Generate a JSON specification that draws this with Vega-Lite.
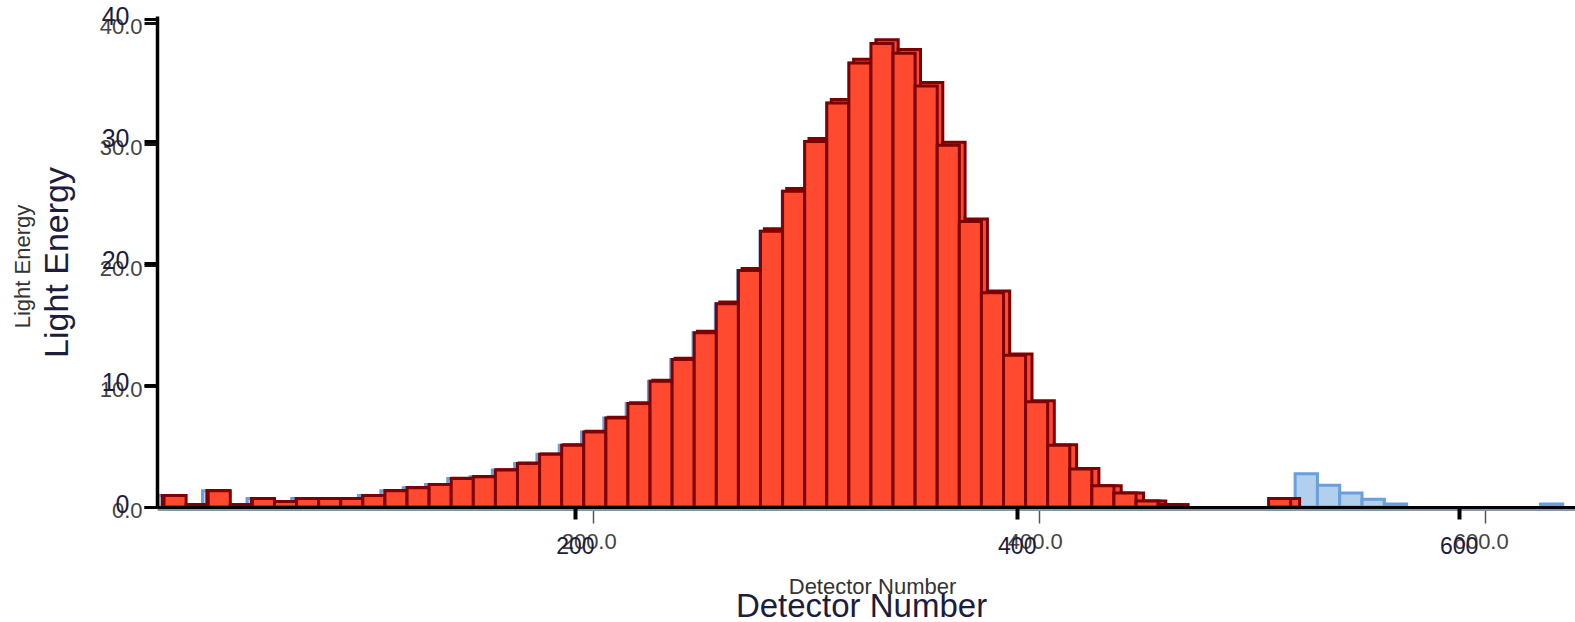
{
  "$schema": "https://vega.github.io/schema/vega-lite/v6.json",
  "width": 1418,
  "height": 487,
  "autosize": {"type": "none"},
  "padding": {"left": 157, "top": 20, "right": 0, "bottom": 115},
  "background": "white",
  "config": {"view": {"stroke": null}, "axis": {"grid": false}},
  "datasets": {
    "red": [
      {"rs": 14, "re": 24, "gs": 7, "ge": 17, "v": 0.95},
      {"rs": 24, "re": 34, "gs": 17, "ge": 27, "v": 0.2},
      {"rs": 34, "re": 44, "gs": 27, "ge": 37, "v": 1.35},
      {"rs": 44, "re": 54, "gs": 37, "ge": 47, "v": 0.2},
      {"rs": 54, "re": 64, "gs": 47, "ge": 57, "v": 0.7},
      {"rs": 64, "re": 74, "gs": 57, "ge": 67, "v": 0.45},
      {"rs": 74, "re": 84, "gs": 67, "ge": 77, "v": 0.7},
      {"rs": 84, "re": 94, "gs": 77, "ge": 87, "v": 0.7},
      {"rs": 94, "re": 104, "gs": 87, "ge": 97, "v": 0.7},
      {"rs": 104, "re": 114, "gs": 97, "ge": 107, "v": 0.95},
      {"rs": 114, "re": 124, "gs": 107, "ge": 117, "v": 1.35},
      {"rs": 124, "re": 134, "gs": 117, "ge": 127, "v": 1.6},
      {"rs": 134, "re": 144, "gs": 127, "ge": 137, "v": 1.85},
      {"rs": 144, "re": 154, "gs": 137, "ge": 147, "v": 2.35},
      {"rs": 154, "re": 164, "gs": 147, "ge": 157, "v": 2.5},
      {"rs": 164, "re": 174, "gs": 157, "ge": 167, "v": 3.05},
      {"rs": 174, "re": 184, "gs": 167, "ge": 177, "v": 3.6},
      {"rs": 184, "re": 194, "gs": 177, "ge": 187, "v": 4.35},
      {"rs": 194, "re": 204, "gs": 187, "ge": 197, "v": 5.1},
      {"rs": 204, "re": 214, "gs": 197, "ge": 207, "v": 6.2},
      {"rs": 214, "re": 224, "gs": 207, "ge": 217, "v": 7.35},
      {"rs": 224, "re": 234, "gs": 217, "ge": 227, "v": 8.55},
      {"rs": 234, "re": 244, "gs": 227, "ge": 237, "v": 10.4},
      {"rs": 244, "re": 254, "gs": 237, "ge": 247, "v": 12.2},
      {"rs": 254, "re": 264, "gs": 247, "ge": 257, "v": 14.4},
      {"rs": 264, "re": 274, "gs": 257, "ge": 267, "v": 16.8},
      {"rs": 274, "re": 284, "gs": 267, "ge": 277, "v": 19.55},
      {"rs": 284, "re": 294, "gs": 277, "ge": 287, "v": 22.8},
      {"rs": 294, "re": 304, "gs": 287, "ge": 297, "v": 26.1},
      {"rs": 304, "re": 314, "gs": 297, "ge": 307, "v": 30.2},
      {"rs": 314, "re": 324, "gs": 307, "ge": 317, "v": 33.4},
      {"rs": 324, "re": 334, "gs": 317, "ge": 327, "v": 36.7},
      {"rs": 334, "re": 344, "gs": 327, "ge": 337, "v": 38.3},
      {"rs": 344, "re": 354, "gs": 337, "ge": 347, "v": 37.5},
      {"rs": 354, "re": 364, "gs": 347, "ge": 357, "v": 34.8},
      {"rs": 364, "re": 374, "gs": 357, "ge": 367, "v": 29.9},
      {"rs": 374, "re": 384, "gs": 367, "ge": 377, "v": 23.6},
      {"rs": 384, "re": 394, "gs": 377, "ge": 387, "v": 17.7},
      {"rs": 394, "re": 404, "gs": 387, "ge": 397, "v": 12.55},
      {"rs": 404, "re": 414, "gs": 397, "ge": 407, "v": 8.7},
      {"rs": 414, "re": 424, "gs": 407, "ge": 417, "v": 5.1},
      {"rs": 424, "re": 434, "gs": 417, "ge": 427, "v": 3.15},
      {"rs": 434, "re": 444, "gs": 427, "ge": 437, "v": 1.75},
      {"rs": 444, "re": 454, "gs": 437, "ge": 447, "v": 1.15},
      {"rs": 454, "re": 464, "gs": 447, "ge": 457, "v": 0.5},
      {"rs": 464, "re": 474, "gs": 457, "ge": 467, "v": 0.2},
      {"rs": 514, "re": 524, "gs": 507, "ge": 517, "v": 0.7}
    ],
    "blue": [
      {"bs": 5, "be": 15, "v": 0.95},
      {"bs": 15, "be": 25, "v": 0.2},
      {"bs": 25, "be": 35, "v": 1.35},
      {"bs": 35, "be": 45, "v": 0.2},
      {"bs": 45, "be": 55, "v": 0.7},
      {"bs": 55, "be": 65, "v": 0.45},
      {"bs": 65, "be": 75, "v": 0.7},
      {"bs": 75, "be": 85, "v": 0.7},
      {"bs": 85, "be": 95, "v": 0.7},
      {"bs": 95, "be": 105, "v": 0.95},
      {"bs": 105, "be": 115, "v": 1.35},
      {"bs": 115, "be": 125, "v": 1.6},
      {"bs": 125, "be": 135, "v": 1.85},
      {"bs": 135, "be": 145, "v": 2.35},
      {"bs": 145, "be": 155, "v": 2.5},
      {"bs": 155, "be": 165, "v": 3.05},
      {"bs": 165, "be": 175, "v": 3.6},
      {"bs": 175, "be": 185, "v": 4.35},
      {"bs": 185, "be": 195, "v": 5.1},
      {"bs": 195, "be": 205, "v": 6.2},
      {"bs": 205, "be": 215, "v": 7.35},
      {"bs": 215, "be": 225, "v": 8.55},
      {"bs": 225, "be": 235, "v": 10.4},
      {"bs": 235, "be": 245, "v": 12.2},
      {"bs": 245, "be": 255, "v": 14.4},
      {"bs": 255, "be": 265, "v": 16.8},
      {"bs": 265, "be": 275, "v": 19.55},
      {"bs": 275, "be": 285, "v": 22.8},
      {"bs": 285, "be": 295, "v": 26.1},
      {"bs": 295, "be": 305, "v": 30.2},
      {"bs": 305, "be": 315, "v": 33.4},
      {"bs": 315, "be": 325, "v": 36.7},
      {"bs": 325, "be": 335, "v": 38.3},
      {"bs": 335, "be": 345, "v": 37.5},
      {"bs": 345, "be": 355, "v": 34.8},
      {"bs": 355, "be": 365, "v": 29.9},
      {"bs": 365, "be": 375, "v": 23.6},
      {"bs": 375, "be": 385, "v": 17.7},
      {"bs": 385, "be": 395, "v": 12.55},
      {"bs": 395, "be": 405, "v": 8.7},
      {"bs": 405, "be": 415, "v": 5.1},
      {"bs": 415, "be": 425, "v": 3.15},
      {"bs": 425, "be": 435, "v": 1.75},
      {"bs": 435, "be": 445, "v": 1.15},
      {"bs": 445, "be": 455, "v": 0.5},
      {"bs": 455, "be": 465, "v": 0.2},
      {"bs": 505, "be": 515, "v": 0.7},
      {"bs": 515, "be": 525, "v": 2.75},
      {"bs": 525, "be": 535, "v": 1.8},
      {"bs": 535, "be": 545, "v": 1.15},
      {"bs": 545, "be": 555, "v": 0.65},
      {"bs": 555, "be": 565, "v": 0.25},
      {"bs": 625, "be": 635, "v": 0.25}
    ]
  },
  "layer": [
    {
      "data": {"name": "blue"},
      "mark": {"type": "bar", "fill": "#b3cfee", "stroke": "#6a9fdc", "strokeWidth": 3},
      "encoding": {
        "x": {
          "field": "bs", "type": "quantitative",
          "scale": {"domain": [4.62, 640.5], "nice": false, "zero": false},
          "axis": {
            "orient": "bottom", "title": "Detector Number", "values": [200, 400, 600], "format": ".1f",
            "offset": 2, "domainColor": "#8a96a3", "domainWidth": 3,
            "tickColor": "#555555", "tickWidth": 1.5, "tickSize": 14,
            "labelFont": "Liberation Sans", "labelFontSize": 22, "labelColor": "#444444",
            "labelPadding": 8, "labelOffset": -4,
            "titleFont": "Liberation Sans", "titleFontSize": 22, "titleFontWeight": "normal", "titleColor": "#333333",
            "titleX": 715, "titleY": 84, "titleAlign": "center", "titleBaseline": "alphabetic"
          }
        },
        "x2": {"field": "be"},
        "y": {
          "field": "v", "type": "quantitative",
          "scale": {"domain": [0, 40.25], "nice": false},
          "axis": {
            "orient": "left", "title": "Light Energy", "values": [0, 10, 20, 30, 40], "format": ".1f",
            "domain": false, "tickColor": "#111111", "tickWidth": 3, "tickSize": 13,
            "labelFont": "Liberation Sans", "labelFontSize": 22, "labelColor": "#444444",
            "labelPadding": 2, "labelOffset": 3,
            "titleFont": "Liberation Sans", "titleFontSize": 22, "titleFontWeight": "normal", "titleColor": "#333333",
            "titleX": -128, "titleY": 246, "titleAngle": -90, "titleAlign": "center", "titleBaseline": "alphabetic"
          }
        },
        "y2": {"datum": 0}
      }
    },
    {
      "data": {"name": "red"},
      "mark": {"type": "bar", "fill": "#ff4a2f", "stroke": "#7d0000", "strokeWidth": 3},
      "encoding": {
        "x": {
          "field": "gs", "type": "quantitative",
          "scale": {"domain": [4.62, 640.5], "nice": false, "zero": false},
          "axis": null
        },
        "x2": {"field": "ge"},
        "y": {
          "field": "v", "type": "quantitative",
          "scale": {"domain": [0, 40.25], "range": [487, -4], "nice": false},
          "axis": {
            "orient": "left", "title": "Light Energy", "values": [0, 10, 20, 30, 40], "format": "d",
            "zindex": 1, "domainColor": "#000000", "domainWidth": 3.5,
            "tickColor": "#000000", "tickWidth": 3, "tickSize": 13,
            "labelFont": "Liberation Sans", "labelFontSize": 25, "labelColor": "#1c1c3c",
            "labelPadding": 15, "labelOffset": -3,
            "titleFont": "Liberation Sans", "titleFontSize": 34, "titleFontWeight": "normal", "titleColor": "#1c1c3c",
            "titleX": -90, "titleY": 242, "titleAngle": -90, "titleAlign": "center", "titleBaseline": "alphabetic"
          }
        },
        "y2": {"datum": 0}
      }
    },
    {
      "data": {"name": "red"},
      "mark": {"type": "bar", "fill": "#ff4a2f", "stroke": "#7d0000", "strokeWidth": 3},
      "encoding": {
        "x": {
          "field": "rs", "type": "quantitative",
          "scale": {"domain": [10.82, 652.7], "nice": false, "zero": false},
          "axis": {
            "orient": "bottom", "title": "Detector Number", "values": [200, 400, 600], "format": "d",
            "zindex": 1, "domainColor": "#000000", "domainWidth": 3,
            "tickColor": "#000000", "tickWidth": 4, "tickSize": 12,
            "labelFont": "Liberation Sans", "labelFontSize": 23, "labelColor": "#1c1c3c",
            "labelPadding": 16,
            "titleFont": "Liberation Sans", "titleFontSize": 33, "titleFontWeight": "normal", "titleColor": "#1c1c3c",
            "titleX": 704, "titleY": 109, "titleAlign": "center", "titleBaseline": "alphabetic"
          }
        },
        "x2": {"field": "re"},
        "y": {
          "field": "v", "type": "quantitative",
          "scale": {"domain": [0, 40.25], "nice": false},
          "axis": null
        },
        "y2": {"datum": 0}
      }
    }
  ],
  "resolve": {
    "scale": {"x": "independent", "y": "independent"},
    "axis": {"x": "independent", "y": "independent"}
  }
}
